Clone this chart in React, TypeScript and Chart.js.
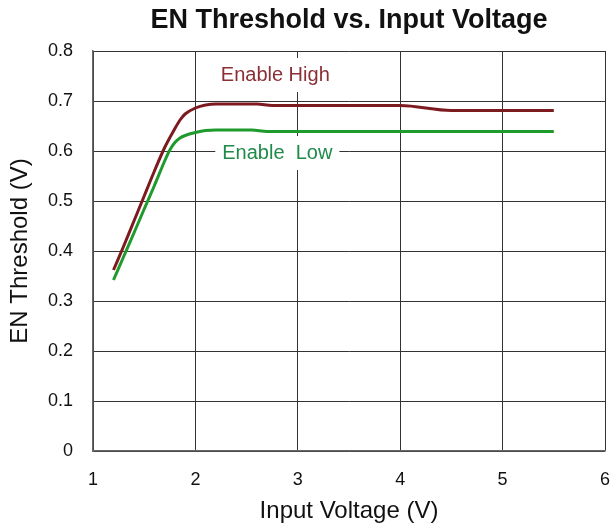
import React, { useEffect, useRef } from 'react';
import { Chart, registerables } from 'chart.js';

Chart.register(...registerables);

const FONT = '"Liberation Sans", Arial, sans-serif';

// Enable High curve (Input Voltage V, EN Threshold V)
const highX = [1.2, 1.3, 1.4, 1.5, 1.6, 1.7, 1.8, 1.85, 1.9, 2.0, 2.1, 2.2, 2.6, 2.75, 4.0, 4.5, 5.5];
const highY = [0.362, 0.41, 0.46, 0.51, 0.56, 0.607, 0.645, 0.662, 0.674, 0.686, 0.692, 0.694, 0.694, 0.691, 0.691, 0.681, 0.681];

// Enable Low curve
const lowX = [1.2, 1.3, 1.4, 1.5, 1.6, 1.7, 1.75, 1.8, 1.85, 1.9, 2.0, 2.1, 2.2, 2.55, 2.7, 5.5];
const lowY = [0.342, 0.389, 0.436, 0.484, 0.531, 0.58, 0.602, 0.617, 0.626, 0.631, 0.637, 0.641, 0.642, 0.642, 0.639, 0.639];

const xTicks = [1, 2, 3, 4, 5, 6];
const yTicks = [0, 0.1, 0.2, 0.3, 0.4, 0.5, 0.6, 0.7, 0.8];

const labelTexts = ['Enable High', 'Enable  Low'];
const labelX = [2.78, 2.8];
const labelY = [0.752, 0.596];
const labelColors = ['#8a2f35', '#1f8a4a'];

const lineColors = ['#7d1a1f', '#1f9a2c'];

const curveLabels = {
  id: 'curveLabels',
  beforeDatasetsDraw(chart: any) {
    const { ctx, scales } = chart;
    const xs = scales.x;
    const ys = scales.y;
    ctx.save();
    ctx.font = `20px ${FONT}`;
    ctx.textAlign = 'center';
    ctx.textBaseline = 'middle';
    labelTexts.forEach((t, i) => {
      const px = xs.getPixelForValue(labelX[i]);
      const py = ys.getPixelForValue(labelY[i]);
      const w = ctx.measureText(t).width + 14;
      const h = 34;
      ctx.fillStyle = '#ffffff';
      ctx.fillRect(px - w / 2, py - h / 2, w, h);
      ctx.fillStyle = labelColors[i];
      ctx.fillText(t, px, py);
    });
    ctx.restore();
  },
};

export default function App() {
  const ref = useRef<HTMLCanvasElement>(null);

  useEffect(() => {
    if (!ref.current) return;
    const chart = new Chart(ref.current, {
      type: 'line',
      data: {
        datasets: [
          {
            label: 'Enable High',
            data: highX.map((x, i) => ({ x, y: highY[i] })),
            borderColor: lineColors[0],
            borderWidth: 3,
            pointRadius: 0,
            cubicInterpolationMode: 'monotone',
            fill: false,
          },
          {
            label: 'Enable Low',
            data: lowX.map((x, i) => ({ x, y: lowY[i] })),
            borderColor: lineColors[1],
            borderWidth: 3,
            pointRadius: 0,
            cubicInterpolationMode: 'monotone',
            fill: false,
          },
        ],
      },
      options: {
        responsive: false,
        animation: false,
        devicePixelRatio: 1,
        layout: { padding: { left: 0, right: 6, top: 0, bottom: 0 } },
        plugins: {
          legend: { display: false },
          tooltip: { enabled: false },
          title: {
            display: true,
            fullSize: false,
            text: 'EN Threshold vs. Input Voltage',
            color: '#111',
            font: { family: FONT, size: 27, weight: 'bold' },
            padding: { top: 4, bottom: 14.6 },
          },
        },
        scales: {
          x: {
            type: 'linear',
            min: 1,
            max: 6,
            afterBuildTicks: (scale: any) => {
              scale.ticks = xTicks.map((v) => ({ value: v }));
            },
            afterFit: (scale: any) => {
              scale.height = 78;
              scale.paddingLeft = 0;
              scale.paddingRight = 0;
            },
            grid: { color: '#333', lineWidth: 1, drawTicks: false },
            border: { display: true, color: '#666', width: 1.5 },
            ticks: {
              color: '#111',
              padding: 18,
              font: { family: FONT, size: 18 },
              callback: (v: any) => String(v),
            },
            title: {
              display: true,
              text: 'Input Voltage (V)',
              color: '#111',
              font: { family: FONT, size: 24 },
              padding: { top: 0, bottom: 3.6 },
            },
          },
          y: {
            type: 'linear',
            min: 0,
            max: 0.8,
            afterBuildTicks: (scale: any) => {
              scale.ticks = yTicks.map((v) => ({ value: v }));
            },
            afterFit: (scale: any) => {
              scale.width = 93;
            },
            grid: { color: '#333', lineWidth: 1, drawTicks: false },
            border: { display: true, color: '#666', width: 1.5 },
            ticks: {
              color: '#111',
              padding: 20,
              font: { family: FONT, size: 18 },
              callback: (v: any) => (Number(v) === 0 ? '0' : Number(v).toFixed(1)),
            },
            title: {
              display: true,
              text: 'EN Threshold (V)',
              color: '#111',
              font: { family: FONT, size: 24 },
              padding: { top: 6, bottom: 0 },
            },
          },
        },
      },
      plugins: [curveLabels],
    });
    return () => chart.destroy();
  }, []);

  return (
    <div style={{ position: 'absolute', left: 0, top: 0, width: 611, height: 529, background: '#fff' }}>
      <canvas ref={ref} width={611} height={529} />
    </div>
  );
}
